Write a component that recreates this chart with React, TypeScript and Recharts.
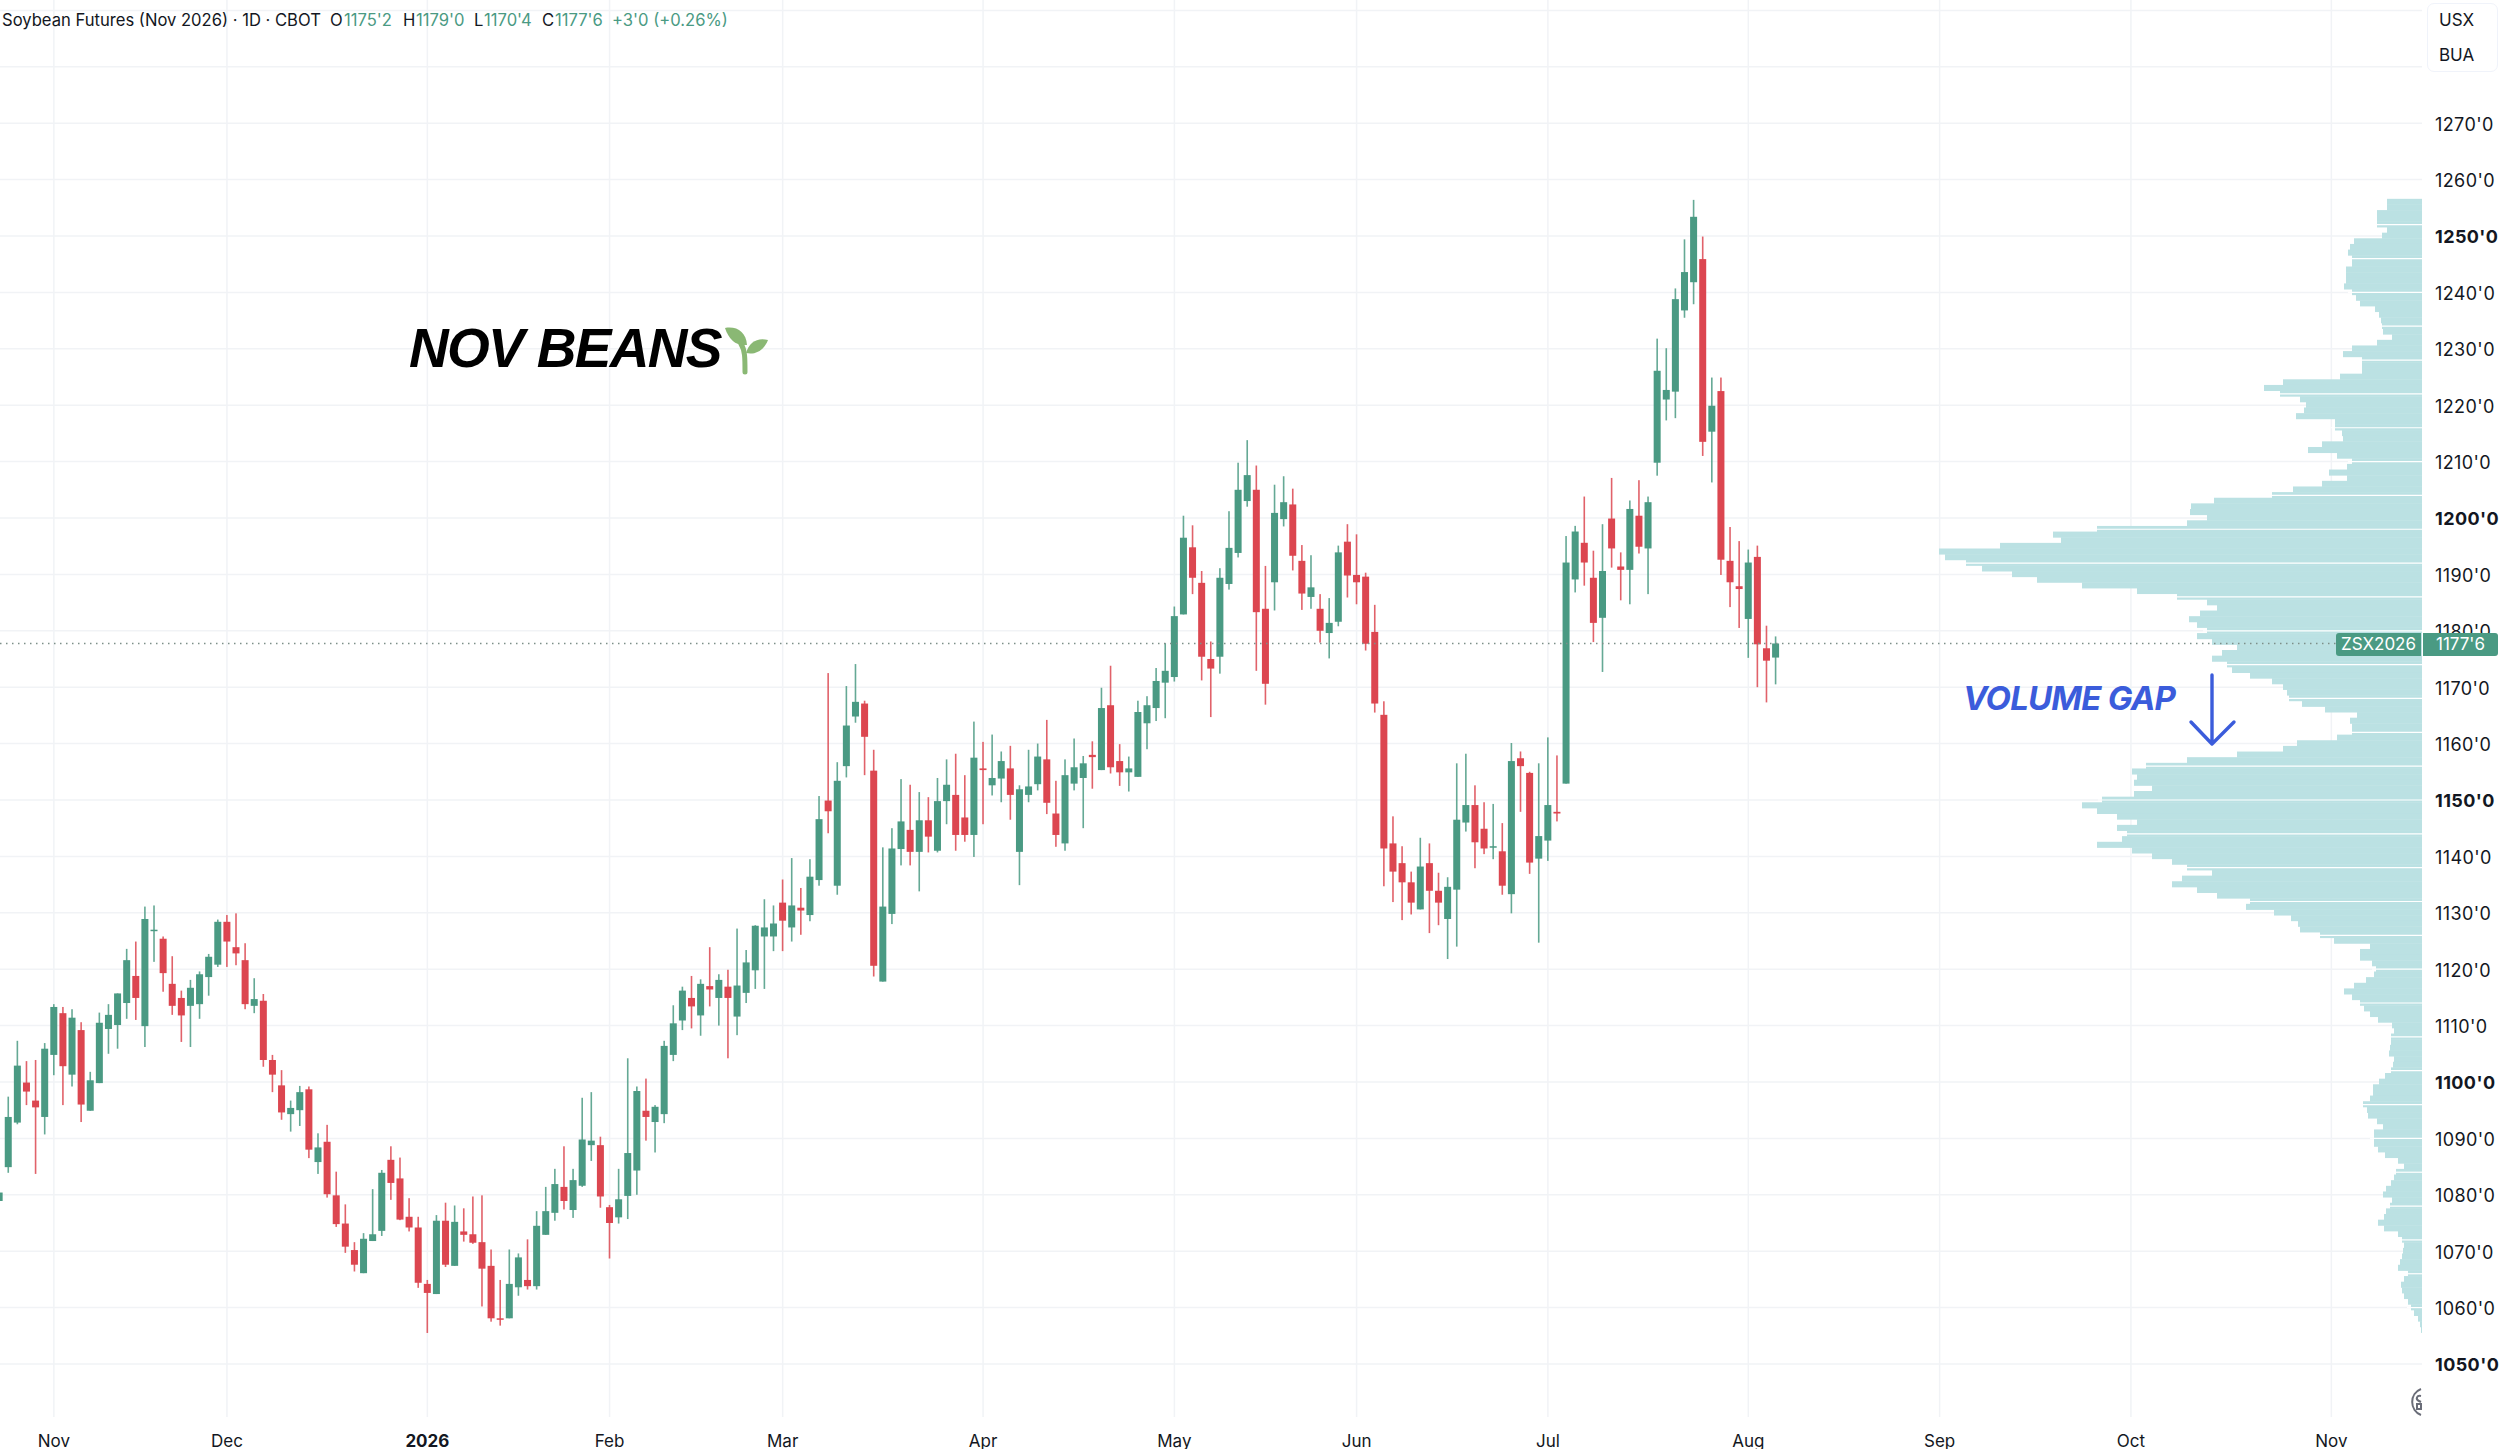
import React from 'react';
import { Bar, CartesianGrid, ComposedChart, ReferenceLine, XAxis, YAxis } from 'recharts';

// daily OHLC, one value per session
const opens = [
  1078.9, 1084.9, 1092.8, 1099.9, 1096.7, 1093.8, 1104.8, 1112.2, 1101.3, 1109.2,
  1094.9, 1099.8, 1109.4, 1110.1, 1114.0, 1118.8, 1109.9, 1126.8, 1125.4, 1117.4,
  1114.9, 1113.5, 1113.8, 1118.6, 1120.8, 1128.4, 1123.9, 1121.6, 1113.5, 1114.4,
  1103.9, 1099.4, 1094.3, 1095.0, 1098.7, 1085.8, 1089.4, 1079.9, 1074.9, 1070.2,
  1066.1, 1071.8, 1073.6, 1086.2, 1082.9, 1076.1, 1074.2, 1064.2, 1062.4, 1075.4,
  1067.4, 1073.5, 1073.0, 1071.6, 1067.4, 1058.1, 1058.1, 1063.6, 1064.9, 1063.8,
  1072.9, 1076.8, 1081.4, 1077.3, 1081.6, 1088.8, 1088.8, 1077.8, 1076.0, 1079.8,
  1084.3, 1094.9, 1092.9, 1094.3, 1104.8, 1110.9, 1114.9, 1111.8, 1117.0, 1114.9,
  1116.9, 1111.6, 1115.8, 1119.8, 1125.8, 1125.8, 1131.8, 1127.4, 1130.9, 1129.6,
  1135.8, 1149.9, 1134.8, 1156.0, 1164.8, 1167.1, 1155.2, 1117.8, 1129.8, 1141.3,
  1144.7, 1140.8, 1146.4, 1141.0, 1149.8, 1150.9, 1146.9, 1143.8, 1155.6, 1152.6,
  1153.8, 1155.6, 1140.8, 1150.9, 1152.8, 1157.2, 1147.6, 1142.3, 1152.9, 1153.9,
  1158.0, 1155.3, 1166.8, 1156.9, 1154.9, 1154.1, 1163.6, 1166.3, 1170.8, 1171.8,
  1182.9, 1194.8, 1188.5, 1175.0, 1175.4, 1188.3, 1193.8, 1203.0, 1205.0, 1183.9,
  1188.6, 1199.8, 1202.4, 1192.4, 1186.0, 1183.9, 1179.6, 1181.6, 1195.8, 1189.9,
  1189.6, 1179.8, 1165.1, 1142.3, 1138.8, 1135.4, 1130.6, 1138.8, 1133.9, 1128.9,
  1134.1, 1146.0, 1149.1, 1144.9, 1141.6, 1140.9, 1133.3, 1157.4, 1154.8, 1139.6,
  1142.8, 1147.9, 1152.9, 1189.1, 1195.6, 1189.4, 1182.3, 1199.9, 1191.4, 1190.8,
  1200.4, 1194.6, 1209.8, 1221.0, 1222.4, 1236.8, 1241.8, 1245.9, 1215.3, 1222.5,
  1192.4, 1187.9, 1182.1, 1193.1, 1176.9, 1175.25,
];
const highs = [
  1080.4, 1097.4, 1107.3, 1103.7, 1103.9, 1106.9, 1113.8, 1113.3, 1112.9, 1110.6,
  1101.8, 1112.3, 1113.8, 1115.7, 1123.6, 1124.9, 1131.1, 1131.3, 1125.8, 1122.3,
  1116.2, 1118.1, 1119.6, 1122.7, 1128.8, 1129.6, 1129.9, 1124.6, 1118.4, 1115.6,
  1104.8, 1102.1, 1096.7, 1099.3, 1099.2, 1090.9, 1092.4, 1084.1, 1078.3, 1071.6,
  1073.2, 1081.0, 1084.4, 1088.6, 1086.6, 1079.4, 1076.1, 1064.9, 1076.4, 1078.6,
  1078.1, 1077.6, 1079.7, 1079.9, 1070.3, 1064.9, 1070.3, 1069.6, 1072.1, 1077.1,
  1081.4, 1084.6, 1088.6, 1084.6, 1097.2, 1098.2, 1090.3, 1078.2, 1084.6, 1104.2,
  1099.2, 1100.6, 1095.9, 1107.3, 1113.6, 1116.9, 1118.8, 1118.2, 1123.9, 1119.1,
  1119.9, 1127.2, 1123.4, 1127.8, 1132.4, 1131.3, 1135.9, 1139.7, 1134.4, 1139.5,
  1150.7, 1172.5, 1156.7, 1170.2, 1174.1, 1167.6, 1158.9, 1141.6, 1145.0, 1153.7,
  1152.7, 1151.4, 1150.5, 1153.9, 1157.2, 1158.2, 1154.4, 1163.9, 1160.3, 1161.6,
  1158.6, 1159.6, 1152.6, 1158.9, 1160.0, 1164.2, 1153.4, 1157.2, 1160.9, 1157.8,
  1160.4, 1169.9, 1173.8, 1159.9, 1157.7, 1167.6, 1168.4, 1173.4, 1177.8, 1184.3,
  1200.4, 1198.7, 1190.6, 1178.1, 1191.1, 1201.2, 1209.8, 1213.8, 1209.3, 1191.5,
  1205.9, 1207.4, 1205.2, 1195.2, 1193.4, 1186.5, 1185.8, 1195.1, 1198.9, 1197.1,
  1190.3, 1184.6, 1167.5, 1147.1, 1141.8, 1137.3, 1143.3, 1142.3, 1137.1, 1136.3,
  1156.5, 1158.2, 1152.6, 1149.6, 1149.3, 1145.9, 1160.1, 1158.6, 1155.0, 1156.5,
  1161.1, 1157.9, 1196.8, 1198.6, 1203.8, 1194.2, 1198.9, 1207.1, 1193.9, 1203.1,
  1206.7, 1203.8, 1231.8, 1230.1, 1240.7, 1249.4, 1256.4, 1249.9, 1224.9, 1224.9,
  1198.4, 1195.9, 1194.4, 1195.1, 1180.9, 1179,
];
const lows = [
  1078.9, 1083.9, 1092.5, 1095.9, 1083.7, 1090.7, 1101.2, 1095.9, 1099.2, 1092.9,
  1094.9, 1099.8, 1105.0, 1105.9, 1111.2, 1111.0, 1106.2, 1121.3, 1116.0, 1111.9,
  1107.1, 1106.2, 1111.2, 1115.3, 1120.4, 1120.4, 1120.7, 1112.9, 1112.2, 1102.7,
  1098.2, 1093.3, 1091.2, 1092.2, 1086.5, 1083.7, 1079.5, 1074.3, 1069.7, 1066.4,
  1066.1, 1071.8, 1072.7, 1079.1, 1075.5, 1073.5, 1063.5, 1055.5, 1062.4, 1067.2,
  1067.4, 1071.7, 1071.3, 1060.2, 1057.5, 1056.8, 1058.1, 1062.1, 1063.2, 1063.2,
  1072.9, 1075.4, 1077.4, 1075.9, 1081.4, 1086.0, 1077.7, 1068.7, 1074.9, 1075.7,
  1080.0, 1089.6, 1087.5, 1092.7, 1103.7, 1109.2, 1109.5, 1108.2, 1113.4, 1110.0,
  1104.2, 1108.3, 1114.0, 1116.5, 1116.5, 1123.2, 1123.2, 1124.9, 1126.1, 1128.5,
  1134.8, 1144.1, 1133.2, 1154.0, 1163.7, 1154.4, 1118.7, 1117.8, 1128.0, 1138.4,
  1138.4, 1133.8, 1140.7, 1140.7, 1145.7, 1141.0, 1142.6, 1139.9, 1145.7, 1150.8,
  1149.6, 1146.5, 1134.9, 1149.6, 1151.7, 1147.5, 1141.7, 1141.0, 1151.7, 1145.0,
  1152.0, 1155.3, 1154.7, 1152.5, 1151.5, 1154.1, 1159.0, 1164.0, 1164.5, 1171.0,
  1182.9, 1186.5, 1171.2, 1164.7, 1172.4, 1187.3, 1193.0, 1202.0, 1172.9, 1166.9,
  1183.6, 1198.5, 1190.7, 1183.7, 1183.9, 1177.9, 1175.1, 1180.8, 1185.9, 1184.7,
  1176.5, 1165.5, 1134.7, 1131.9, 1128.7, 1129.7, 1130.6, 1126.4, 1127.8, 1121.8,
  1124.0, 1144.4, 1137.9, 1140.4, 1139.5, 1133.2, 1129.9, 1147.9, 1136.9, 1124.7,
  1139.2, 1146.2, 1152.9, 1186.8, 1188.0, 1178.0, 1172.7, 1191.2, 1185.4, 1184.7,
  1193.7, 1186.5, 1207.5, 1217.3, 1217.7, 1235.5, 1237.9, 1211.0, 1206.3, 1189.9,
  1184.2, 1180.5, 1175.2, 1170.0, 1167.3, 1170.5,
];
const closes = [
  1080.4, 1093.8, 1102.9, 1098.3, 1095.5, 1105.9, 1113.3, 1102.8, 1111.4, 1096.0,
  1100.3, 1110.5, 1111.9, 1115.7, 1121.6, 1114.9, 1128.9, 1127.0, 1119.3, 1113.5,
  1111.8, 1116.7, 1119.1, 1122.2, 1128.4, 1124.9, 1122.8, 1113.8, 1114.7, 1103.9,
  1101.3, 1094.6, 1095.4, 1098.2, 1088.0, 1088.4, 1080.1, 1074.8, 1070.8, 1067.6,
  1072.2, 1073.0, 1083.9, 1082.1, 1075.6, 1074.2, 1064.4, 1062.6, 1075.4, 1067.6,
  1075.2, 1072.9, 1071.5, 1066.9, 1058.1, 1057.9, 1064.2, 1068.9, 1063.8, 1074.5,
  1077.1, 1081.9, 1078.9, 1082.6, 1089.8, 1089.6, 1079.7, 1075.0, 1079.2, 1087.4,
  1098.4, 1093.8, 1095.6, 1106.4, 1110.4, 1116.2, 1113.4, 1117.4, 1116.4, 1118.1,
  1114.9, 1117.1, 1121.2, 1127.7, 1127.4, 1128.1, 1128.6, 1131.3, 1130.4, 1136.4,
  1146.6, 1148.0, 1153.4, 1163.2, 1167.4, 1161.2, 1120.6, 1131.1, 1141.4, 1146.2,
  1140.8, 1146.4, 1143.5, 1149.8, 1152.7, 1143.8, 1143.8, 1157.5, 1155.3, 1153.9,
  1156.9, 1150.9, 1151.9, 1152.4, 1157.7, 1149.5, 1143.8, 1154.4, 1155.8, 1156.5,
  1157.6, 1166.3, 1155.8, 1154.9, 1155.6, 1165.6, 1166.8, 1171.1, 1172.9, 1182.6,
  1196.5, 1189.4, 1175.4, 1173.3, 1189.4, 1194.7, 1205.0, 1207.6, 1183.3, 1170.6,
  1200.9, 1202.8, 1193.3, 1186.6, 1187.7, 1180.0, 1181.4, 1193.9, 1189.8, 1188.6,
  1177.7, 1167.1, 1141.4, 1137.3, 1135.4, 1131.8, 1138.2, 1133.9, 1131.8, 1134.6,
  1146.5, 1149.1, 1142.5, 1141.4, 1141.8, 1134.8, 1156.9, 1156.0, 1138.9, 1143.6,
  1149.1, 1147.6, 1192.1, 1197.6, 1192.1, 1181.4, 1190.6, 1194.6, 1190.8, 1201.6,
  1194.9, 1202.8, 1226.1, 1222.7, 1238.8, 1243.6, 1253.4, 1213.5, 1219.9, 1192.6,
  1188.6, 1187.4, 1192.1, 1177.6, 1174.7, 1177.75,
];

// session index where each month starts, and its label
const monthTicks = [6, 25, 47, 67, 86, 108, 129, 149, 170, 192, 213, 234, 256];
const monthLabels = ['Nov', 'Dec', '2026', 'Feb', 'Mar', 'Apr', 'May', 'Jun', 'Jul', 'Aug', 'Sep', 'Oct', 'Nov'];

const priceTicks = [
  1050, 1060, 1070, 1080, 1090, 1100, 1110, 1120, 1130, 1140, 1150, 1160, 1170,
  1180, 1190, 1200, 1210, 1220, 1230, 1240, 1250, 1260, 1270, 1280, 1290,
];
const boldPrices = [1050, 1100, 1150, 1200, 1250];

// volume profile, one value per cent from 1256 down to 1056
const profileTop = 1256;
const profileVolumes = [
  35, 35, 45, 45, 45, 35, 40, 68, 72, 74,
  70, 70, 76, 76, 76, 78, 70, 66, 62, 47,
  43, 41, 40, 39, 30, 45, 70, 79, 60, 60,
  60, 82, 139, 158, 142, 122, 116, 118, 126, 87,
  87, 80, 79, 100, 114, 85, 70, 75, 93, 75,
  100, 129, 150, 208, 231, 232, 215, 235, 325, 369,
  361, 422, 483, 477, 456, 440, 410, 385, 340, 285,
  245, 215, 205, 222, 233, 225, 215, 225, 210, 185,
  200, 210, 195, 190, 172, 150, 139, 135, 133, 120,
  97, 65, 72, 70, 70, 85, 125, 139, 185, 235,
  276, 290, 285, 288, 270, 288, 320, 340, 325, 305,
  285, 305, 295, 300, 325, 290, 270, 250, 235, 210,
  240, 250, 225, 205, 172, 176, 148, 131, 124, 122,
  102, 88, 52, 62, 62, 50, 46, 48, 56, 68,
  78, 70, 62, 58, 52, 44, 30, 28, 31, 31,
  32, 33, 28, 29, 31, 37, 43, 49, 49, 52,
  59, 55, 54, 45, 39, 48, 48, 48, 44, 37,
  24, 18, 26, 28, 31, 36, 39, 30, 32, 36,
  38, 44, 38, 24, 20, 18, 19, 20, 22, 24,
  14, 18, 21, 20, 18, 14, 11, 8, 4, 2, 1,
];
const profileBreaks = [
  1252, 1246, 1240, 1234, 1228, 1222, 1216, 1210, 1204, 1198, 1192, 1186, 1180, 1174, 1168, 1162,
  1156, 1150, 1144, 1138, 1132, 1126, 1120, 1114, 1108, 1102, 1096, 1090, 1084, 1078, 1072, 1066, 1060,
];

const lastPrice = 1177.75;

const candles = opens.map((open, i) => ({ idx: i, open, high: highs[i], low: lows[i], close: closes[i] }));
const profile = profileVolumes.map((volume, i) => ({ price: profileTop - i, volume }));

const GREEN = '#4a9a83';
const RED = '#dc4650';
const PROFILE = '#bbe1e3';
const BLUE = '#3b5cdb';
const FONT = 'Inter, sans-serif';

const WIDTH = 2500;
const HEIGHT = 1449;
const PLOT_RIGHT = 78;
const PLOT_BOTTOM = 32;
const priceDomain = [1040.6, 1291.84];
const indexDomain = [0.088, 265.95];

const Candle = (props: any) => {
  const { x, y, width, height, payload } = props;
  const up = payload.close >= payload.open;
  const color = up ? GREEN : RED;
  const perUnit = height / (payload.high - payload.low);
  const top = y + (payload.high - Math.max(payload.open, payload.close)) * perUnit;
  const bodyH = Math.max(Math.abs(payload.close - payload.open) * perUnit, 1.5);
  const cx = x + width / 2;
  return (
    <g>
      <rect x={cx - 0.8} y={y} width={1.6} height={height} fill={color} opacity={0.85} />
      <rect x={cx - 3.5} y={top} width={7} height={bodyH} fill={color} />
    </g>
  );
};

// profile rows are stretched a little so neighbours touch; the reversed axis gives a negative width
const ProfileRow = (props: any) => {
  const { x, y, width, height } = props;
  return <rect x={Math.min(x, x + width)} y={y - 0.5} width={Math.abs(width)} height={Math.abs(height) + 1} fill={PROFILE} />;
};

const PriceTick = (props: any) => {
  const { x, y, payload } = props;
  if (payload.value > 1270) return null;
  const bold = boldPrices.includes(payload.value);
  return (
    <text x={x} y={y + 7.5} textAnchor="start" fontFamily={FONT} fontSize={18} letterSpacing={0.4} fontWeight={bold ? 700 : 400} fill="#131722">
      {`${payload.value}'0`}
    </text>
  );
};

const MonthTick = (props: any) => {
  const { x, y, index } = props;
  const label = monthLabels[index];
  return (
    <text x={x} y={y + 22} textAnchor="middle" fontFamily={FONT} fontSize={17} fontWeight={label === '2026' ? 700 : 400} fill="#131722">
      {label}
    </text>
  );
};

const abs = (left: number, top: number): React.CSSProperties => ({ position: 'absolute', left, top, whiteSpace: 'nowrap' });

const legendItems = [
  { left: 330, text: 'O', color: '#131722' },
  { left: 344, text: "1175'2", color: GREEN },
  { left: 403, text: 'H', color: '#131722' },
  { left: 416, text: "1179'0", color: GREEN },
  { left: 474, text: 'L', color: '#131722' },
  { left: 484, text: "1170'4", color: GREEN },
  { left: 542, text: 'C', color: '#131722' },
  { left: 555, text: "1177'6", color: GREEN },
  { left: 612, text: "+3'0 (+0.26%)", color: GREEN },
];

export default function App() {
  return (
    <div style={{ position: 'absolute', left: 0, top: 0, width: WIDTH, height: HEIGHT, background: '#fff', overflow: 'hidden', fontFamily: FONT }}>
      <div style={abs(0, 0)}>
        <ComposedChart width={WIDTH} height={HEIGHT} data={candles} margin={{ top: 0, right: 0, bottom: 0, left: 0 }}>
          <CartesianGrid stroke="#f1f3f6" strokeWidth={1.5} syncWithTicks />
          <XAxis
            type="number"
            dataKey="idx"
            domain={indexDomain}
            allowDataOverflow
            ticks={monthTicks}
            interval={0}
            height={PLOT_BOTTOM}
            tickLine={false}
            axisLine={false}
            tick={<MonthTick />}
          />
          <YAxis
            orientation="right"
            type="number"
            domain={priceDomain}
            allowDataOverflow
            ticks={priceTicks}
            interval={0}
            width={PLOT_RIGHT}
            tickLine={false}
            axisLine={false}
            tickMargin={7}
            tick={<PriceTick />}
          />
          <Bar dataKey={(d: any) => [d.low, d.high]} barSize={7} shape={<Candle />} isAnimationActive={false} />
        </ComposedChart>
      </div>

      <div style={abs(0, 0)}>
        <ComposedChart
          layout="vertical"
          width={WIDTH - PLOT_RIGHT}
          height={HEIGHT}
          data={profile}
          margin={{ top: 0, right: 0, bottom: PLOT_BOTTOM, left: 0 }}
        >
          <XAxis type="number" hide reversed domain={[0, WIDTH - PLOT_RIGHT]} />
          <YAxis type="number" hide reversed dataKey="price" domain={priceDomain} allowDataOverflow />
          <Bar dataKey="volume" barSize={6} shape={<ProfileRow />} isAnimationActive={false} />
          {profileBreaks.map(p => (
            <ReferenceLine
              key={p}
              segment={[{ x: 0, y: p }, { x: profileVolumes[profileTop - p] + 4, y: p }]}
              stroke="#fff"
              strokeWidth={1.2}
            />
          ))}
          <ReferenceLine y={lastPrice} stroke="#7d8f89" strokeWidth={1.5} strokeDasharray="1.5 4.5" />
        </ComposedChart>
      </div>

      <svg width={WIDTH} height={HEIGHT} style={abs(0, 0)}>
        {/* seedling after the title */}
        <path d="M745 372 C745 358 745 350 741 344" stroke="#8ab874" strokeWidth={5} fill="none" strokeLinecap="round" />
        <path d="M725 328 C737 326 746 332 747 345 C736 346 729 340 725 328 Z" fill="#8ab874" />
        <path d="M768 340 C758 337 749 342 746 353 C756 355 764 350 768 340 Z" fill="#8ab874" />
        {/* volume gap arrow */}
        <path d="M2212 675 L2212 743 M2191 722 L2212 744 L2234 722" stroke={BLUE} strokeWidth={3.4} fill="none" strokeLinecap="round" strokeLinejoin="round" />
        {/* logo stub at the corner of the plot */}
        <g>
          <path d="M2421 1389 A14 14 0 0 0 2421 1415" stroke="#6a6d78" strokeWidth={2} fill="none" />
          <path d="M2421 1396 C2417 1395 2415 1399 2419 1401 L2421 1402 M2417 1409 L2421 1409 L2421 1404 L2417 1404 Z" stroke="#6a6d78" strokeWidth={2} fill="none" />
        </g>
      </svg>

      <div style={{ ...abs(2, 8), fontSize: 16.6, lineHeight: '24px', color: '#131722' }}>Soybean Futures (Nov 2026) · 1D · CBOT</div>
      {legendItems.map(item => (
        <div key={item.left} style={{ ...abs(item.left, 8), fontSize: 16.6, lineHeight: '24px', color: item.color }}>{item.text}</div>
      ))}

      <div style={{ ...abs(409, 316), fontFamily: 'Liberation Sans, sans-serif', fontStyle: 'italic', fontWeight: 700, fontSize: 55, lineHeight: '64px', letterSpacing: -1.7, color: '#000' }}>NOV BEANS</div>
      <div style={{ ...abs(1963, 678), fontStyle: 'italic', fontWeight: 700, fontSize: 33, lineHeight: '40px', letterSpacing: -0.8, color: BLUE }}>VOLUME GAP</div>

      <div style={{ ...abs(2427, 3), width: 71, height: 69, border: '1.5px solid #f0f3fa', borderRadius: 7, boxSizing: 'border-box' }} />
      <div style={{ ...abs(2439, 9), fontSize: 17, lineHeight: '22px', color: '#131722' }}>USX</div>
      <div style={{ ...abs(2439, 44), fontSize: 17, lineHeight: '22px', color: '#131722' }}>BUA</div>

      <div style={{ ...abs(2336, 633), width: 85, height: 23, background: GREEN, borderRadius: '3px 0 0 3px', color: '#fff', fontSize: 17, lineHeight: '23px', textAlign: 'center' }}>ZSX2026</div>
      <div style={{ ...abs(2423, 633), width: 75, height: 23, background: GREEN, borderRadius: '0 3px 3px 0', color: '#fff', fontSize: 17, lineHeight: '23px', textAlign: 'center' }}>1177'6</div>
    </div>
  );
}
